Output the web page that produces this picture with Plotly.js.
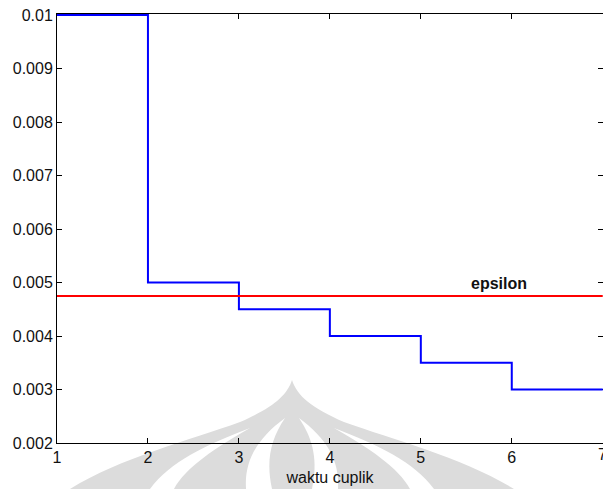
<!DOCTYPE html>
<html>
<head>
<meta charset="utf-8">
<script src="https://cdn.plot.ly/plotly-3.0.1.min.js"></script>
<style>html,body{margin:0;padding:0;background:#fff;}#chart{width:603px;height:489px;}</style>
</head>
<body>
<div id="chart"></div>
<script>
// Data
const sampleTimes = [1, 2, 3, 4, 5, 6, 7];
const errorValues = [0.01, 0.005, 0.0045, 0.004, 0.0035, 0.003, 0.003];
const epsilonX = [1, 7];
const epsilonValue = 0.00475;
const epsilonLabel = "epsilon";
const xTitle = "waktu cuplik";
const xTickVals = [1, 2, 3, 4, 5, 6, 7];
const xTickText = ["1", "2", "3", "4", "5", "6", "7"];
const yTickVals = [0.002, 0.003, 0.004, 0.005, 0.006, 0.007, 0.008, 0.009, 0.01];
const yTickText = ["0.002", "0.003", "0.004", "0.005", "0.006", "0.007", "0.008", "0.009", "0.01"];

// Watermark (background decoration) built in pixel space -> paper coordinates
const L = 57, T = 14, W = 546, H = 429;
function P(px, py) { return ((px - L) / W).toFixed(4) + "," + ((T + H - py) / H).toFixed(4); }
function path(cmds) {
  return cmds.map(c => c[0] + " " + c.slice(1).map(p => P(p[0], p[1])).join(" ")).join(" ");
}
const domePath = path([
  ["M", [70, 489]],
  ["C", [120, 458], [190, 440], [240, 422]],
  ["C", [272, 408], [287, 396], [292, 380]],
  ["C", [297, 396], [312, 408], [344, 422]],
  ["C", [394, 440], [464, 458], [514, 489]],
  ["Z"]
]);
const whiteBands = [
  path([["M", [150, 489]], ["C", [170, 462], [205, 445], [250, 428]], ["C", [215, 448], [185, 468], [174, 489]], ["Z"]]),
  path([["M", [246, 489]], ["C", [244, 460], [258, 438], [285, 418]], ["C", [270, 440], [266, 462], [272, 489]], ["Z"]]),
  path([["M", [338, 489]], ["C", [340, 460], [326, 438], [299, 418]], ["C", [314, 440], [318, 462], [312, 489]], ["Z"]]),
  path([["M", [434, 489]], ["C", [414, 462], [379, 445], [334, 428]], ["C", [369, 448], [399, 468], [410, 489]], ["Z"]])
];
const shapes = [{type: "path", xref: "paper", yref: "paper", path: domePath, fillcolor: "#dcdcdc", line: {width: 0}, layer: "below"}]
  .concat(whiteBands.map(p => ({type: "path", xref: "paper", yref: "paper", path: p, fillcolor: "#ffffff", line: {width: 0}, layer: "below"})));

const traces = [
  {x: sampleTimes, y: errorValues, type: "scatter", mode: "lines", line: {shape: "hv", color: "#0000ff", width: 2}, hoverinfo: "none"},
  {x: epsilonX, y: epsilonX.map(() => epsilonValue), type: "scatter", mode: "lines", line: {color: "#ff0000", width: 2}, hoverinfo: "none"}
];

const FONT = "Liberation Sans, Arial, sans-serif";
const axisCommon = {
  showgrid: false, zeroline: false, showline: true, linecolor: "#000", linewidth: 1,
  mirror: "ticks", ticks: "inside", ticklen: 5, tickcolor: "#000", layer: "below traces",
  tickfont: {family: FONT, size: 16, color: "#111"}
};
const yTop = 0.01 + 0.008 / 428;

const layout = {
  width: 603, height: 489,
  margin: {l: L, r: 0, t: T, b: 46},
  paper_bgcolor: "rgba(0,0,0,0)", plot_bgcolor: "rgba(0,0,0,0)",
  showlegend: false,
  xaxis: Object.assign({}, axisCommon, {range: [1, 7.003], tickvals: xTickVals, ticktext: xTickText,
    title: {text: xTitle, standoff: 6, font: {family: FONT, size: 16, color: "#111"}}}),
  yaxis: Object.assign({}, axisCommon, {range: [0.002, yTop], tickvals: yTickVals, ticktext: yTickText}),
  shapes: shapes,
  annotations: [
    {x: 5.86, y: 0.00499, xref: "x", yref: "y", text: "<b>" + epsilonLabel + "</b>", showarrow: false,
      font: {family: FONT, size: 16, color: "#111"}, xanchor: "center", yanchor: "middle"},
    {x: xTickVals[xTickVals.length - 1], y: 0, xref: "x", yref: "paper", text: xTickText[xTickText.length - 1], showarrow: false,
      font: {family: FONT, size: 16, color: "#111"}, xanchor: "center", yanchor: "top", yshift: -1}
  ]
};

Plotly.newPlot("chart", traces, layout, {displayModeBar: false, staticPlot: true});
</script>
</body>
</html>
